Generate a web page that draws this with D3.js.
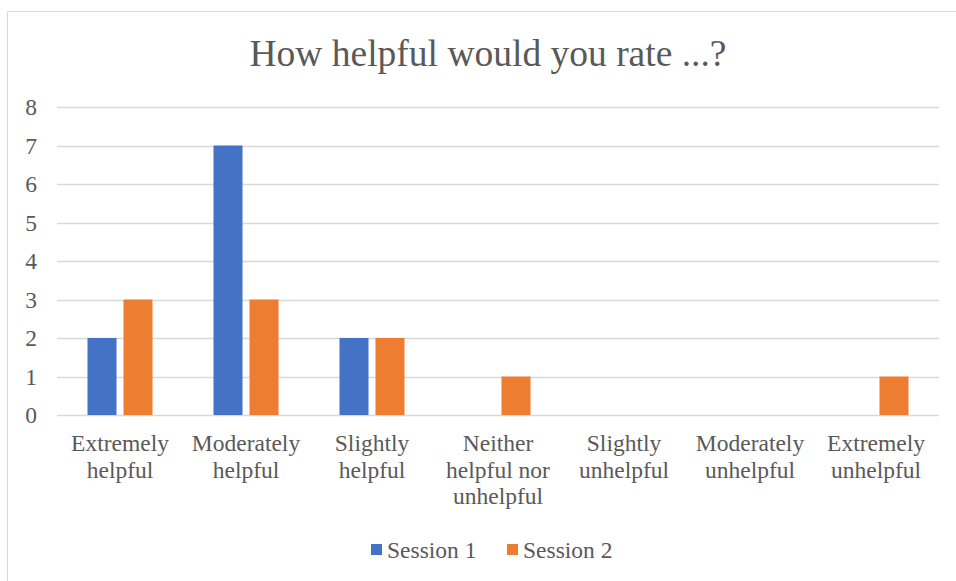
<!DOCTYPE html>
<html>
<head>
<meta charset="utf-8">
<title>How helpful would you rate</title>
<script src="https://cdn.jsdelivr.net/npm/d3@7"></script>
<style>
  body { margin: 0; background: #fff; }
  svg { display: block; }
  text { font-family: "Liberation Serif", "Times New Roman", serif; fill: #595959; }
</style>
</head>
<body>
<svg id="chart" width="956" height="581"></svg>
<script>
// categories, each split into its label lines
const categories = ["Extremely helpful", "Moderately helpful", "Slightly helpful",
  "Neither helpful nor unhelpful", "Slightly unhelpful", "Moderately unhelpful", "Extremely unhelpful"]
const categoryLines = [["Extremely", "helpful"], ["Moderately", "helpful"], ["Slightly", "helpful"],
  ["Neither", "helpful nor", "unhelpful"], ["Slightly", "unhelpful"], ["Moderately", "unhelpful"], ["Extremely", "unhelpful"]]
const seriesNames = ["Session 1", "Session 2"]
const session1 = [2, 7, 2, 0, 0, 0, 0]
const session2 = [3, 3, 2, 1, 0, 0, 1]
const yTicks = [0, 1, 2, 3, 4, 5, 6, 7, 8]
const colors = ["#4472C4", "#ED7D31"]

const svg = d3.select("#chart")

// chart frame (only left and top edges visible)
svg.append("path")
  .attr("d", "M7.5,581 L7.5,11.5 L956,11.5")
  .attr("fill", "none").attr("stroke", "#d9d9d9")

const plotLeft = 57, plotRight = 939, plotTop = 107, plotBottom = 415

const x0 = d3.scaleBand().domain(categories).range([plotLeft, plotRight]).padding(0)
const x1 = d3.scaleBand().domain(seriesNames).range([0, x0.bandwidth()])
  .paddingInner(0.194).paddingOuter(0.847)
const y = d3.scaleLinear().domain([0, 8]).range([plotBottom, plotTop])

// title
svg.append("text")
  .attr("x", 488).attr("y", 66)
  .attr("text-anchor", "middle")
  .style("font-size", "37.5px")
  .text("How helpful would you rate ...?")

// gridlines
svg.append("g").selectAll("line")
  .data(yTicks).enter()
  .append("line")
  .attr("x1", plotLeft).attr("x2", plotRight)
  .attr("y1", d => Math.round(y(d)) + 0.5).attr("y2", d => Math.round(y(d)) + 0.5)
  .attr("stroke", "#d9d9d9").attr("stroke-width", 1.3)

// y axis labels
const yAxis = d3.axisLeft(y).tickValues(yTicks).tickSize(0).tickPadding(0)
svg.append("g")
  .attr("transform", `translate(${plotLeft - 20},0)`)
  .call(yAxis)
  .call(g => g.select(".domain").remove())
  .call(g => g.selectAll("text")
    .style("font-size", "23.5px")
    .style("font-family", "'Liberation Serif', serif")
    .style("fill", "#595959")
    .attr("dy", "0.33em"))

// bars
const rows = categories.map((c, i) => ({ cat: c, vals: [session1[i], session2[i]] }))
const groups = svg.append("g").selectAll("g")
  .data(rows).enter()
  .append("g")
  .attr("transform", d => `translate(${x0(d.cat)},0)`)
groups.selectAll("rect")
  .data(d => d.vals.map((v, k) => ({ name: seriesNames[k], v: v, k: k })).filter(d => d.v > 0))
  .enter()
  .append("rect")
  .attr("x", d => x1(d.name))
  .attr("width", x1.bandwidth())
  .attr("y", d => y(d.v))
  .attr("height", d => y(0) - y(d.v))
  .attr("fill", d => colors[d.k])

// category labels
const catLabels = svg.append("g").selectAll("text")
  .data(categories).enter()
  .append("text")
  .attr("text-anchor", "middle")
  .style("font-size", "23.5px")
  .attr("x", d => x0(d) + x0.bandwidth() / 2)
  .attr("y", 451)
catLabels.selectAll("tspan")
  .data((d, i) => categoryLines[i])
  .enter()
  .append("tspan")
  .attr("x", function() { return d3.select(this.parentNode).attr("x") })
  .attr("dy", (d, i) => i === 0 ? 0 : 26.5)
  .text(d => d)

// legend
const legendX = [371, 507]
const legend = svg.append("g").selectAll("g")
  .data(seriesNames).enter()
  .append("g")
  .attr("transform", (d, i) => `translate(${legendX[i]},544)`)
legend.append("rect")
  .attr("width", 11).attr("height", 11)
  .attr("fill", (d, i) => colors[i])
legend.append("text")
  .attr("x", 16).attr("y", 14)
  .style("font-size", "23.5px")
  .text(d => d)
</script>
</body>
</html>
